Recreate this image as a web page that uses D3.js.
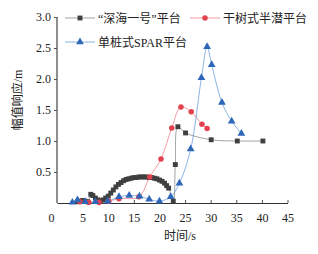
<!DOCTYPE html>
<html lang="zh">
<head>
<meta charset="UTF-8" />
<title>幅值响应</title>
<script src="https://d3js.org/d3.v7.min.js"></script>
<style>
	body { margin: 0; background: #fff; }
	svg text { font-family: "Liberation Serif", "Noto Sans CJK SC", serif; fill: #222; }
</style>
</head>
<body>
<svg width="318" height="254"></svg>
<script>
const width = 318;
const height = 254;

// series: [time (s), amplitude (m)]
const shenhai = [
	[4.0, 0.02], [4.5, 0.03], [5.0, 0.04], [5.5, 0.03], [6.0, 0.02],
	[6.6, 0.14], [7.0, 0.12], [7.5, 0.08], [8.0, 0.05], [8.5, 0.03],
	[9.0, 0.05], [9.5, 0.08], [10.0, 0.11], [10.5, 0.16], [11.0, 0.21],
	[11.5, 0.26], [12.0, 0.3], [12.5, 0.33], [13.0, 0.36], [13.5, 0.38],
	[14.0, 0.39], [14.5, 0.4], [15.0, 0.41], [15.5, 0.41], [16.0, 0.42],
	[16.5, 0.42], [17.0, 0.42], [17.5, 0.42], [18.0, 0.41], [18.5, 0.41],
	[19.0, 0.4], [19.5, 0.39], [20.0, 0.37], [20.5, 0.35], [21.0, 0.32],
	[21.4, 0.28], [21.8, 0.24], [22.7, 0.03], [23.1, 0.62], [23.6, 1.23],
	[25.1, 1.13], [30.1, 1.02], [35.2, 1.0], [40.2, 1.0]
];
const ganshu = [
	[4.5, 0.02], [6.2, 0.01], [8.2, 0.01], [10.1, 0.03], [12.1, 0.07],
	[16.0, 0.1], [18.1, 0.42], [20.3, 0.71], [22.4, 1.21], [24.2, 1.55],
	[26.2, 1.47], [28.3, 1.27], [29.3, 1.2]
];
const spar = [
	[3.0, 0.01], [4.0, 0.05], [5.5, 0.02], [7.5, 0.02], [9.9, 0.03],
	[12.1, 0.1], [14.1, 0.12], [16.1, 0.11], [18.0, 0.06], [20.0, 0.03],
	[22.2, 0.1], [23.9, 0.32], [26.1, 0.87], [28.2, 2.02], [29.3, 2.52],
	[30.2, 2.23], [32.2, 1.62], [34.1, 1.32], [36.0, 1.12]
];

const seriesNames = ["“深海一号”平台", "干树式半潜平台", "单桩式SPAR平台"];
const xTicks = [0, 5, 10, 15, 20, 25, 30, 35, 40, 45];
const yTicks = [0.5, 1.0, 1.5, 2.0, 2.5, 3.0];

const x = d3.scaleLinear().domain([0, 45]).range([57, 287.5]);
const y = d3.scaleLinear().domain([0, 3]).range([203, 17]);

const svg = d3.select("svg");

const series = [
	{ name: seriesNames[0], data: shenhai, line: "#8a8a8a", fill: "#3f3f3f", shape: "square" },
	{ name: seriesNames[1], data: ganshu, line: "#f0848c", fill: "#e2424f", shape: "circle" },
	{ name: seriesNames[2], data: spar, line: "#6e9fdc", fill: "#2f67b8", shape: "triangle" }
];

const symbolOf = {
	square: d3.symbol().type(d3.symbolSquare).size(24),
	circle: d3.symbol().type(d3.symbolCircle).size(24),
	triangle: d3.symbol().type(d3.symbolTriangle).size(26)
};

// axes
const xAxis = svg.append("g")
	.attr("transform", `translate(0,${y(0)})`)
	.call(d3.axisBottom(x).tickValues(xTicks).tickSizeInner(-3).tickSizeOuter(0).tickPadding(10).tickFormat(d3.format("d")));
xAxis.select(".domain").attr("stroke", "#333").attr("stroke-width", 1.1);
xAxis.selectAll(".tick line").attr("stroke", "#555");
xAxis.selectAll(".tick text").style("font-size", "12px")
	.attr("dx", (d) => (d === 0 ? -6 : 0));
xAxis.selectAll(".tick").filter((d) => d === 0).select("line").remove();

const yAxis = svg.append("g")
	.attr("transform", `translate(${x(0)},0)`)
	.call(d3.axisLeft(y).tickValues(yTicks).tickSizeInner(3).tickSizeOuter(0).tickPadding(3).tickFormat(d3.format(".1f")));
yAxis.select(".domain").attr("stroke", "#333").attr("stroke-width", 1.1)
	.attr("d", `M0,${y(0)}V${y(3)}`);
yAxis.selectAll(".tick line").attr("stroke", "#555");
yAxis.selectAll(".tick text").style("font-size", "12px");

// lines and markers
const line = d3.line()
	.x((d) => x(d[0]))
	.y((d) => y(d[1]))
	.curve(d3.curveCatmullRom.alpha(0.5));

series.forEach((s) => {
	svg.append("path")
		.datum(s.data)
		.attr("fill", "none")
		.attr("stroke", s.line)
		.attr("stroke-width", 0.8)
		.attr("d", line);
});

series.forEach((s) => {
	svg.append("g")
		.selectAll("path")
		.data(s.data)
		.join("path")
		.attr("transform", (d) => `translate(${x(d[0])},${y(d[1])})`)
		.attr("d", symbolOf[s.shape]())
		.attr("fill", s.fill);
});

// legend
const legendPos = [
	{ lx: 65, ly: 18 },
	{ lx: 190, ly: 18 },
	{ lx: 65, ly: 42 }
];
series.forEach((s, i) => {
	const p = legendPos[i];
	const g = svg.append("g").attr("transform", `translate(${p.lx},${p.ly})`);
	g.append("line").attr("x1", 0).attr("x2", 30).attr("y1", 0).attr("y2", 0)
		.attr("stroke", s.line).attr("stroke-width", 0.8);
	g.append("path").attr("transform", "translate(15,0)").attr("d", symbolOf[s.shape]()).attr("fill", s.fill);
	g.append("text").attr("x", 33).attr("y", 4.5).style("font-size", "12px").text(s.name);
});

// axis titles
svg.append("text")
	.attr("x", 180).attr("y", 240)
	.attr("text-anchor", "middle")
	.style("font-size", "12px")
	.text("时间/s");

svg.append("text")
	.attr("transform", "translate(22,100) rotate(-90)")
	.attr("text-anchor", "middle")
	.style("font-size", "12px")
	.text("幅值响应/m");
</script>
</body>
</html>
